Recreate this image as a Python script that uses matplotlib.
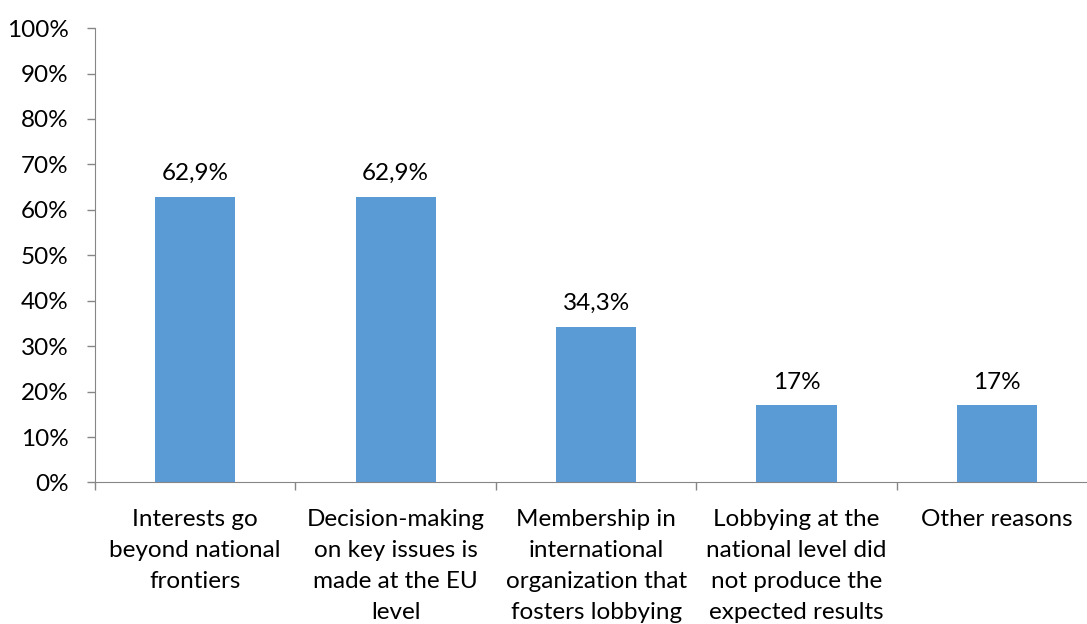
import numpy as np
import matplotlib.pyplot as plt

# reasons for lobbying at EU level (share of respondents, %)
categories = [
    "Interests go\nbeyond national\nfrontiers",
    "Decision-making\non key issues is\nmade at the EU\nlevel",
    "Membership in\ninternational\norganization that\nfosters lobbying",
    "Lobbying at the\nnational level did\nnot produce the\nexpected results",
    "Other reasons",
]
values = [62.9, 62.9, 34.3, 17, 17]
value_labels = ["62,9%", "62,9%", "34,3%", "17%", "17%"]
yticks = np.arange(0, 101, 10)

plt.rcParams['font.family'] = ['Lato', 'DejaVu Sans']
fs = 17.5

fig = plt.figure(figsize=(10.87, 6.24), dpi=100)
ax = fig.add_axes([0.0874, 0.2268, 0.922, 0.7282])

x = np.arange(len(categories))
ax.bar(x, values, width=0.4, color='#5B9BD5')

for xi, v, lab in zip(x, values, value_labels):
    ax.annotate(lab, (xi, v), xytext=(0, 9), textcoords='offset points',
                ha='center', va='bottom', fontsize=fs, color='#000000')

ax.set_xlim(-0.5, len(categories) - 0.5)
ax.set_ylim(0, 100)
ax.set_yticks(yticks)
ax.set_yticklabels([f"{t}%" for t in yticks], fontsize=fs)

# category labels centered, ticks at category boundaries
ax.set_xticks(x)
ax.set_xticklabels(categories, fontsize=fs, linespacing=1.6)
ax.tick_params(axis='x', which='major', length=0, pad=19)
ax.set_xticks(np.arange(-0.5, len(categories), 1), minor=True)
ax.tick_params(axis='x', which='minor', length=6, color='#868686', width=1)
ax.tick_params(axis='y', length=6, color='#868686', width=1, pad=13)

for side in ['top', 'right']:
    ax.spines[side].set_visible(False)
for side in ['left', 'bottom']:
    ax.spines[side].set_color('#868686')

plt.savefig('out.png', dpi=100)
